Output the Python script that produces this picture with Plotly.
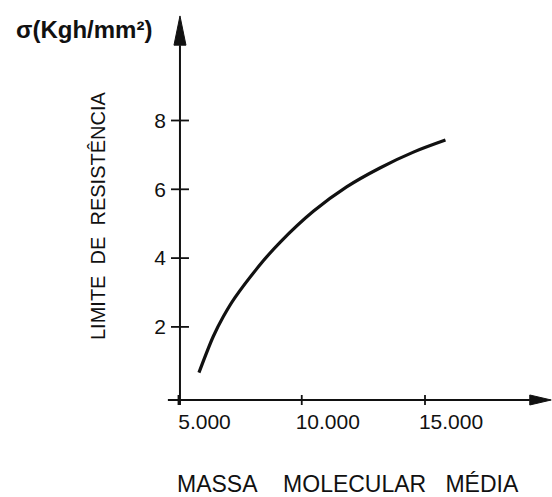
import plotly.graph_objects as go

# Tensile strength vs. average molecular mass
MASSA_MOLECULAR = [5830, 6410, 6820, 7290, 8440, 9120, 10470, 11820, 13170, 14530, 15830]
LIMITE_RESISTENCIA = [0.67, 1.72, 2.30, 2.85, 3.92, 4.46, 5.36, 6.07, 6.62, 7.08, 7.43]

X_TICKS = [5000, 10000, 15000]
X_TICK_TEXT = ["5.000", "10.000", "15.000"]
Y_TICKS = [2, 4, 6, 8]
Y_TICK_TEXT = ["2", "4", "6", "8"]

W, H = 552, 497
X_RANGE = [-2241, 20152]
Y_RANGE = [-2.945, 11.503]

# where the two drawn axes cross
Y_AXIS_X = 5060
X_AXIS_Y = -0.125
X_AXIS_START = 4570
X_AXIS_END = 19250
Y_AXIS_BOTTOM = -0.27
Y_AXIS_TOP = 10.19
Y_ARROW_TIP = 11.04
X_ARROW_TIP = 20120

INK = "#111111"
FONT = "Liberation Sans"


def to_paper_x(v):
    return (v - X_RANGE[0]) / (X_RANGE[1] - X_RANGE[0])


def to_paper_y(v):
    return (v - Y_RANGE[0]) / (Y_RANGE[1] - Y_RANGE[0])


fig = go.Figure()

fig.add_trace(go.Scatter(
    x=MASSA_MOLECULAR, y=LIMITE_RESISTENCIA,
    mode="lines",
    line=dict(color=INK, width=3.2, shape="spline", smoothing=0.9),
    hoverinfo="skip",
    showlegend=False,
))

shapes = []
# axis lines
shapes.append(dict(type="line", xref="x", yref="y",
                   x0=Y_AXIS_X, x1=Y_AXIS_X, y0=Y_AXIS_BOTTOM, y1=Y_AXIS_TOP,
                   line=dict(color=INK, width=2)))
shapes.append(dict(type="line", xref="x", yref="y",
                   x0=X_AXIS_START, x1=X_AXIS_END, y0=X_AXIS_Y, y1=X_AXIS_Y,
                   line=dict(color=INK, width=2)))
# arrowheads
shapes.append(dict(type="path", xref="x", yref="y", xsizemode="pixel", xanchor=Y_AXIS_X,
                   path=f"M -6,{Y_AXIS_TOP} L 0,{Y_ARROW_TIP} L 6,{Y_AXIS_TOP} Z",
                   fillcolor=INK, line=dict(color=INK, width=1)))
shapes.append(dict(type="path", xref="x", yref="y", ysizemode="pixel", yanchor=X_AXIS_Y,
                   path=f"M {X_AXIS_END},-5 L {X_ARROW_TIP},0 L {X_AXIS_END},5 Z",
                   fillcolor=INK, line=dict(color=INK, width=1)))
# tick crosses
for v in Y_TICKS:
    shapes.append(dict(type="line", xref="x", yref="y", xsizemode="pixel", xanchor=Y_AXIS_X,
                       x0=-9, x1=9, y0=v, y1=v, line=dict(color=INK, width=1.8)))
for v in X_TICKS:
    shapes.append(dict(type="line", xref="x", yref="y", ysizemode="pixel", yanchor=X_AXIS_Y,
                       x0=v, x1=v, y0=-5, y1=5, line=dict(color=INK, width=1.8)))

annotations = [
    dict(text="<b>σ(Kgh/mm²)</b>", xref="paper", yref="paper",
         x=14 / W, y=1 - 30 / H, xanchor="left", yanchor="middle",
         showarrow=False, font=dict(family=FONT, size=24, color=INK)),
    dict(text="LIMITE\u00a0\u00a0DE\u00a0\u00a0RESISTÊNCIA", xref="paper", yref="paper",
         x=98 / W, y=1 - 216 / H, xanchor="center", yanchor="middle", textangle=-90,
         showarrow=False, font=dict(family=FONT, size=20, color=INK)),
    dict(text="MASSA\u00a0\u00a0\u00a0\u00a0MOLECULAR\u00a0\u00a0\u00a0MÉDIA",
         xref="paper", yref="paper",
         x=348 / W, y=1 - 484 / H, xanchor="center", yanchor="middle",
         showarrow=False, font=dict(family=FONT, size=23, color=INK)),
]

fig.update_layout(
    width=W, height=H, autosize=False,
    margin=dict(l=0, r=0, t=0, b=0, pad=0),
    paper_bgcolor="white", plot_bgcolor="white",
    shapes=shapes, annotations=annotations,
    xaxis=dict(range=X_RANGE, showgrid=False, zeroline=False, showline=False,
               tickmode="array", tickvals=X_TICKS, ticktext=X_TICK_TEXT, ticks="",
               anchor="free", position=to_paper_y(X_AXIS_Y),
               ticklabelstandoff=7, ticklabelshift=26, automargin=False,
               tickfont=dict(family=FONT, size=21, color=INK)),
    yaxis=dict(range=Y_RANGE, showgrid=False, zeroline=False, showline=False,
               tickmode="array", tickvals=Y_TICKS, ticktext=Y_TICK_TEXT, ticks="",
               anchor="free", position=to_paper_x(Y_AXIS_X),
               ticklabelstandoff=14, automargin=False,
               tickfont=dict(family=FONT, size=21, color=INK)),
    showlegend=False,
)

fig.write_html("out.html")
